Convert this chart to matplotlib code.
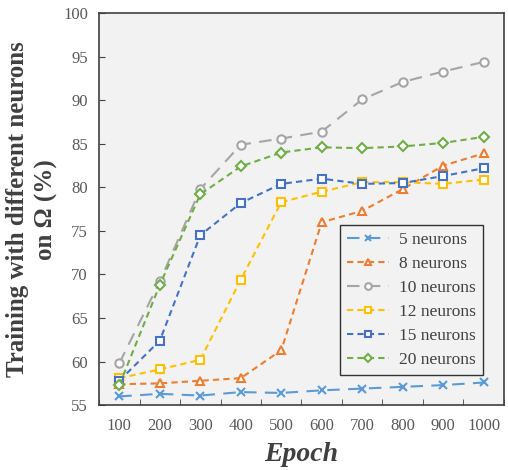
import numpy as np
from matplotlib import pyplot as plt

epochs = ['100', '200', '300', '400', '500', '600', '700', '800', '900', '1000']

n5 = [56.0, 56.3, 56.1, 56.5, 56.4, 56.7, 56.9, 57.1, 57.3, 57.6]
n8 = [57.4, 57.5, 57.8, 58.1, 61.3, 76.0, 77.3, 79.8, 82.5, 83.9]
n10 = [59.8, 69.2, 79.8, 84.9, 85.6, 86.4, 90.1, 92.1, 93.3, 94.4]
n12 = [58.1, 59.1, 60.2, 69.4, 78.3, 79.5, 80.6, 80.6, 80.4, 80.9]
n15 = [57.8, 62.4, 74.5, 78.2, 80.4, 81.0, 80.4, 80.5, 81.3, 82.2]
n20 = [57.3, 68.8, 79.2, 82.4, 84.0, 84.6, 84.5, 84.7, 85.1, 85.8]

plt.rcParams['font.family'] = ['Liberation Serif', 'DejaVu Serif']

fig = plt.figure(figsize=(5.08, 4.70), dpi=100)
ax = fig.add_axes([0.195, 0.138, 0.797, 0.834])
ax.set_facecolor('#F2F2F2')

x = np.arange(len(epochs))
series = [
    (n5, '5 neurons', '#5B9BD5', 'x', (0, (6, 4))),
    (n8, '8 neurons', '#ED7D31', '^', (0, (3, 2))),
    (n10, '10 neurons', '#A5A5A5', 'o', (0, (6, 4))),
    (n12, '12 neurons', '#FFC000', 's', (0, (3, 2))),
    (n15, '15 neurons', '#4472C4', 's', (0, (3, 2))),
    (n20, '20 neurons', '#70AD47', 'D', (0, (3, 2))),
]
for values, label, color, marker, ls in series:
    size = 5 if marker == 'D' else 6
    ax.plot(x, values, linestyle=ls, color=color, linewidth=1.5, marker=marker,
            markersize=size, markerfacecolor='white' if marker != 'x' else color,
            markeredgecolor=color, markeredgewidth=1.5, label=label)

ax.set_xlim(-0.5, len(epochs) - 0.5)
ax.set_ylim(55, 100)
ax.set_yticks(range(55, 101, 5))
ax.set_xticks(x)
ax.set_xticklabels(epochs)
ax.set_xticks(np.arange(-0.5, len(epochs)), minor=True)
ax.tick_params(axis='x', which='major', length=0, pad=9)
ax.tick_params(axis='x', which='minor', direction='in', length=4, color='#404040')
ax.tick_params(axis='y', direction='in', length=4, color='#404040', pad=8)
ax.tick_params(labelsize=12, labelcolor='#595959')
for spine in ax.spines.values():
    spine.set_color('#404040')
    spine.set_linewidth(1.2)

ax.set_xlabel('Epoch', fontsize=20, fontweight='bold', style='italic', color='#404040', labelpad=6)
ax.set_ylabel('Training with different neurons\non \u03a9 (%)', fontsize=18, fontweight='bold',
              color='#404040', labelpad=4, linespacing=1.3)

leg = ax.legend(loc='lower right', bbox_to_anchor=(0.948, 0.077), borderaxespad=0, fontsize=12.5,
                frameon=True, fancybox=False, handlelength=2.4, handletextpad=0.6,
                labelspacing=0.45, borderpad=0.4, markerscale=0.8)
leg.get_frame().set_edgecolor('black')
leg.get_frame().set_linewidth(1.0)
leg.get_frame().set_facecolor('#F2F2F2')
for text in leg.get_texts():
    text.set_color('#404040')

fig.savefig('out.png', dpi=100)
